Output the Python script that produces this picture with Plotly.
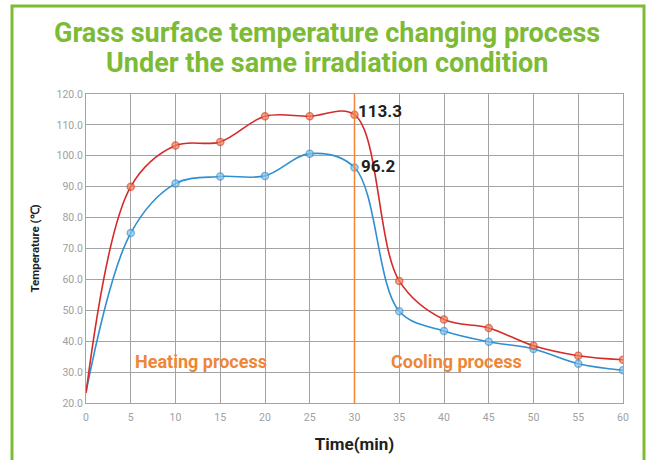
import plotly.graph_objects as go

time_min = [0, 5, 10, 15, 20, 25, 30, 35, 40, 45, 50, 55, 60]
red_series = [23.2, 90.0, 103.3, 104.5, 112.8, 112.8, 113.3, 59.5, 47.0, 44.3, 38.5, 35.3, 34.0]
blue_series = [23.5, 75.0, 91.0, 93.3, 93.5, 100.7, 96.2, 49.7, 43.3, 39.8, 37.5, 32.7, 30.6]
y_ticks = [20, 30, 40, 50, 60, 70, 80, 90, 100, 110, 120]
x_ticks = [0, 5, 10, 15, 20, 25, 30, 35, 40, 45, 50, 55, 60]
title_lines = ["Grass surface temperature changing process", "Under the same irradiation condition"]

GREEN = "#7cbb35"
ORANGE = "#ee8636"

marker_sizes = [0] + [7] * (len(time_min) - 1)

fig = go.Figure()
fig.add_trace(go.Scatter(
    x=time_min, y=blue_series, mode="lines+markers",
    line=dict(color="#2f8fd0", width=1.6, shape="spline", smoothing=1.0),
    marker=dict(size=marker_sizes, color="#8cc4ec", line=dict(color="#3a94d2", width=1.5)),
    showlegend=False, hoverinfo="x+y"))
fig.add_trace(go.Scatter(
    x=time_min, y=red_series, mode="lines+markers",
    line=dict(color="#d42a2a", width=1.6, shape="spline", smoothing=1.0),
    marker=dict(size=marker_sizes, color="#f0875a", line=dict(color="#d8412a", width=1.5)),
    showlegend=False, hoverinfo="x+y"))

# vertical separator at 30 min
fig.add_shape(type="line", xref="x", yref="y", x0=30, x1=30, y0=20, y1=120,
              line=dict(color=ORANGE, width=1.5), layer="above")

# green frame
fig.add_shape(type="rect", xref="paper", yref="paper",
              x0=(12 - 86) / 537, x1=(644 - 86) / 537,
              y0=(403 - 470) / 309, y1=(403 - 6) / 309,
              line=dict(color=GREEN, width=3), fillcolor="rgba(0,0,0,0)", layer="below")

for line_text, py in zip(title_lines, [33, 63]):
    fig.add_annotation(text=f"<b>{line_text}</b>",
                       xref="paper", yref="paper", x=(327 - 86) / 537, y=(403 - py) / 309,
                       showarrow=False, font=dict(family="Roboto", size=27, color=GREEN),
                       xanchor="center", yanchor="middle")

fig.add_annotation(text="<b>Heating process</b>", xref="x", yref="y", x=5.2, y=33.5,
                   showarrow=False, xanchor="left", yanchor="middle",
                   font=dict(family="Roboto", size=18, color=ORANGE))
fig.add_annotation(text="<b>Cooling process</b>", xref="x", yref="y", x=33.8, y=33.5,
                   showarrow=False, xanchor="left", yanchor="middle",
                   font=dict(family="Roboto", size=18, color=ORANGE))
fig.add_annotation(text="<b>113.3</b>", xref="x", yref="y", x=30.2, y=114.5,
                   showarrow=False, xanchor="left", yanchor="middle",
                   font=dict(family="Roboto", size=17, color="#231f20"))
fig.add_annotation(text="<b>96.2</b>", xref="x", yref="y", x=30.5, y=96.8,
                   showarrow=False, xanchor="left", yanchor="middle",
                   font=dict(family="Roboto", size=17, color="#231f20"))

fig.update_layout(
    width=648, height=460,
    margin=dict(l=86, r=25, t=94, b=57),
    paper_bgcolor="white", plot_bgcolor="white",
    font=dict(family="Roboto"),
)
fig.update_xaxes(range=[0, 60], tickvals=x_ticks, ticktext=[str(v) for v in x_ticks],
                 showgrid=True, gridcolor="#a3a3a3", gridwidth=1.2, automargin=False,
                 showline=True, linecolor="#a3a3a3", mirror=True, zeroline=False,
                 tickfont=dict(size=10.5, color="#a0a0a0"), ticks="", ticklabelstandoff=4,
                 title=dict(text="<b>Time(min)</b>", font=dict(size=17, color="#231f20"), standoff=15))
fig.update_yaxes(range=[20, 120], tickvals=y_ticks, ticktext=[f"{v:.1f}" for v in y_ticks],
                 showgrid=True, gridcolor="#a3a3a3", gridwidth=1, automargin=False,
                 showline=True, linecolor="#a3a3a3", mirror=True, zeroline=False,
                 tickfont=dict(size=10.5, color="#a0a0a0"), ticks="",
                 title=dict(text="<b>Temperature (℃)</b>", font=dict(size=11.5, color="#231f20"), standoff=14))

fig.write_html("out.html", config={"displayModeBar": False},
               post_script="document.body.style.margin='0';document.body.style.overflow='hidden';")
